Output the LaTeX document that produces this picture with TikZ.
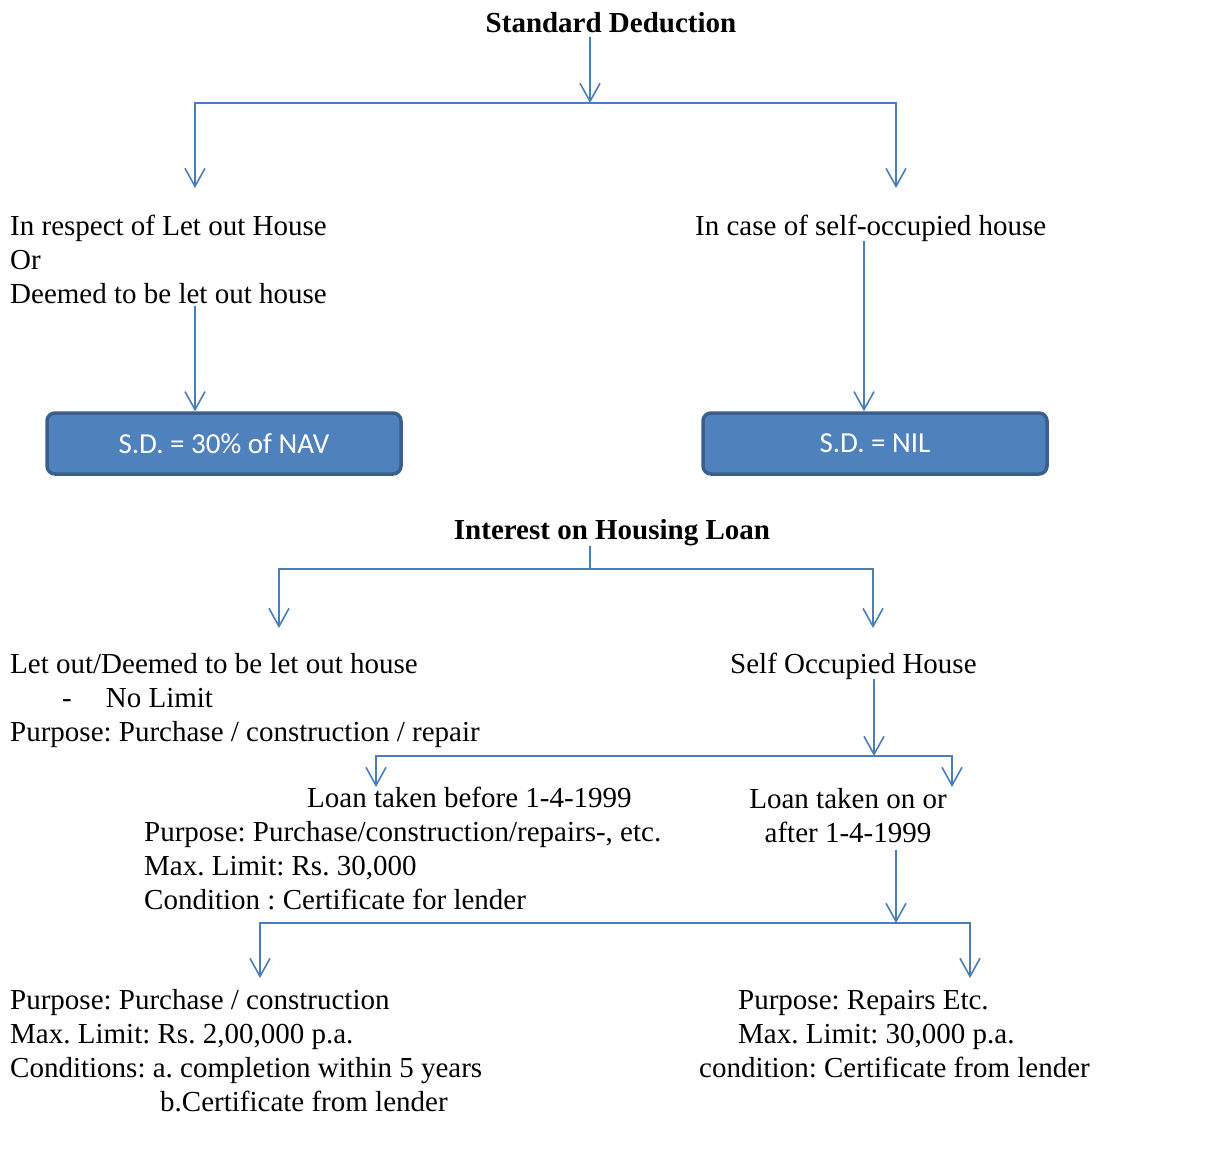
\documentclass[tikz,border=0pt]{standalone}
\usepackage{fontspec}
\setmainfont{Liberation Serif}
\newfontfamily\boxfont{Carlito}
\usetikzlibrary{arrows.meta}
\frenchspacing

\definecolor{linkblue}{HTML}{4A7EBB}
\definecolor{boxfill}{HTML}{4F81BD}
\definecolor{boxline}{HTML}{3A5F8C}

\tikzset{
  txt/.style={anchor=base west, inner sep=0pt, align=left, font=\fontsize{29}{33.7}\selectfont},
  midtxt/.style={txt, anchor=base, align=center},
  head/.style={anchor=base, inner sep=0pt, font=\fontsize{29}{33.7}\selectfont\bfseries},
  sdbox/.style={draw=boxline, line width=3.5pt, fill=boxfill, rounded corners=8pt,
    text=white, font=\boxfont\fontsize{29}{33.7}\selectfont, minimum height=61pt},
  tip/.tip={Straight Barb[length=18pt,width=20pt,line width=1.6pt]},
  link/.style={draw=linkblue, line width=1.6pt},
  arr/.style={link, -tip},
  fork/.style={link, tip-tip},
}

\begin{document}
\begin{tikzpicture}[x=1pt,y=-1pt]
\useasboundingbox (0,0) rectangle (1225,1148);

% Nodes (multi-line texts are placed by their last baseline)
\node[head] (sd) at (611,33) {Standard Deduction};
\node[txt] (letout) at (10,303) {In respect of Let out House\\Or\\Deemed to be let out house};
\node[txt] (selfocc) at (695,235) {In case of self-occupied house};
\node[sdbox, minimum width=354pt] (nav) at (224,443.5) {S.D. = 30\% of NAV};
\node[sdbox, minimum width=344pt] (nil) at (875,443.5) {S.D. = NIL};

\node[head] (ihl) at (612,539) {Interest on Housing Loan};
\node[txt] (letout2) at (10,741) {Let out/Deemed to be let out house\\
  \hspace*{52pt}-\hspace{34pt}No Limit\\
  Purpose: Purchase / construction / repair};
\node[txt] (self2) at (730,673) {Self Occupied House};
\node[txt] (before) at (144,909) {\hspace*{163pt}Loan taken before 1-4-1999\\
  Purpose: Purchase/construction/repairs-, etc.\\
  Max. Limit: Rs. 30,000\\
  Condition : Certificate for lender};
\node[midtxt] (after) at (848,842) {Loan taken on or\\after 1-4-1999};
\node[txt] (newloan) at (10,1111) {Purpose: Purchase / construction\\
  Max. Limit: Rs. 2,00,000 p.a.\\
  Conditions: a. completion within 5 years\\
  \hspace*{150pt}b.Certificate from lender};
\node[txt] (repair) at (699,1077) {\hspace*{39pt}Purpose: Repairs Etc.\\
  \hspace*{39pt}Max. Limit: 30,000 p.a.\\
  condition: Certificate from lender};

% Junctions
\foreach \j/\xl/\xm/\xr/\y/\yt in {sd/195/590/896/103/188, ih/279/590/873/569/628,
                                 so/376/874/952/756/787, af/260/896/970/923/978} {
  \coordinate (\j-L) at (\xl,\y);
  \coordinate (\j-J) at (\xm,\y);
  \coordinate (\j-R) at (\xr,\y);
  \coordinate (\j-Lt) at (\xl,\yt);
  \coordinate (\j-Rt) at (\xr,\yt);
}
\coordinate (selfX) at (864,0);

% Edges
\foreach \j in {sd, ih, so, af} {
  \draw[fork] (\j-Lt) -- (\j-L) -- (\j-R) -- (\j-Rt);
}
\draw[arr] (sd.south -| sd-J) ++(0,3) -- (sd-J);
\draw[arr] (letout.south -| sd-L) ++(0,3) -- (nav.north -| sd-L);
\draw[arr] (selfocc.south -| selfX) -- (nil.north -| selfX);
\draw[link] (ihl.south -| ih-J) -- (ih-J);
\draw[arr] (self2.south -| so-J) -- (so-J);
\draw[arr] (after.south -| af-J) ++(0,8) -- (af-J);
\end{tikzpicture}
\end{document}
